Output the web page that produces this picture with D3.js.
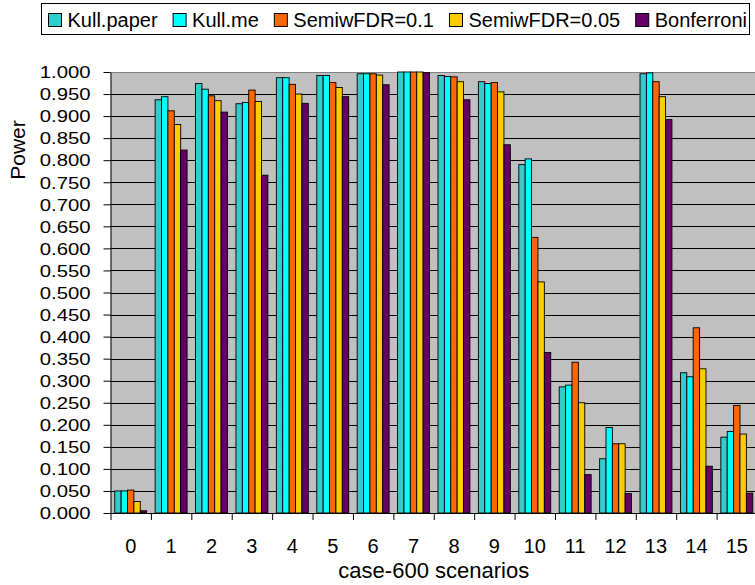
<!DOCTYPE html>
<html>
<head>
<meta charset="utf-8">
<script src="https://cdn.jsdelivr.net/npm/d3@7"></script>
<style>
  html, body { margin: 0; padding: 0; background: #fff; }
  svg { display: block; font-family: "Liberation Sans", Arial, sans-serif; }
</style>
</head>
<body>
<svg id="chart" width="755" height="585"></svg>
<script>
// Scenario categories
const categories = ["0","1","2","3","4","5","6","7","8","9","10","11","12","13","14","15"];

// Power per method, one value per scenario
const kullPaper = [0.050, 0.937, 0.974, 0.928, 0.987, 0.992, 0.996, 1.000, 0.992, 0.978, 0.790, 0.286, 0.123, 0.996, 0.318, 0.172];
const kullMe    = [0.050, 0.944, 0.961, 0.931, 0.987, 0.992, 0.996, 1.000, 0.990, 0.974, 0.803, 0.290, 0.194, 0.998, 0.309, 0.185];
const semiw01   = [0.052, 0.912, 0.946, 0.959, 0.972, 0.976, 0.996, 1.000, 0.989, 0.976, 0.625, 0.342, 0.157, 0.978, 0.420, 0.244];
const semiw005  = [0.026, 0.881, 0.935, 0.933, 0.950, 0.965, 0.993, 1.000, 0.978, 0.955, 0.524, 0.250, 0.157, 0.944, 0.327, 0.179];
const bonferroni= [0.005, 0.823, 0.909, 0.766, 0.929, 0.944, 0.971, 0.999, 0.937, 0.835, 0.364, 0.087, 0.044, 0.892, 0.106, 0.045];

const seriesNames = ["Kull.paper", "Kull.me", "SemiwFDR=0.1", "SemiwFDR=0.05", "Bonferroni"];
const seriesColors = ["#33CCCC", "#00FFFF", "#FF6600", "#FFCC00", "#660066"];

// Y tick values 0.000 .. 1.000 in steps of 0.050
const yTicks = d3.range(0, 21).map(i => i * 0.05);

const series = [kullPaper, kullMe, semiw01, semiw005, bonferroni];

const svg = d3.select("#chart");
const plotLeft = 110.5, plotRight = 757, plotTop = 72, plotBottom = 513;

const x0 = d3.scaleBand().domain(categories).range([plotLeft, plotRight]).padding(0);
const step = x0.step();
const groupGap = step * 0.21;
const x1 = d3.scaleBand().domain(seriesNames).range([groupGap / 2, step - groupGap / 2]).padding(0);
const y = d3.scaleLinear().domain([0, 1]).range([plotBottom, plotTop]);

// Plot background
svg.append("rect")
  .attr("x", plotLeft).attr("y", plotTop)
  .attr("width", plotRight - plotLeft).attr("height", plotBottom - plotTop)
  .attr("fill", "#C0C0C0");

// Horizontal gridlines
svg.append("g").selectAll("line")
  .data(yTicks.filter(v => v > 0))
  .join("line")
  .attr("x1", plotLeft).attr("x2", plotRight)
  .attr("y1", d => Math.round(y(d)) + 0.5).attr("y2", d => Math.round(y(d)) + 0.5)
  .attr("stroke", d => d >= 0.999 ? "#808080" : "#000")
  .attr("stroke-width", 1);

// Bars
const groups = svg.append("g").selectAll("g")
  .data(categories)
  .join("g")
  .attr("transform", d => `translate(${x0(d)},0)`);

groups.selectAll("rect")
  .data((c, i) => series.map((s, k) => ({ name: seriesNames[k], color: seriesColors[k], value: s[i] })))
  .join("rect")
  .attr("x", d => x1(d.name))
  .attr("y", d => y(d.value))
  .attr("width", x1.bandwidth())
  .attr("height", d => y(0) - y(d.value))
  .attr("fill", d => d.color)
  .attr("stroke", "#000")
  .attr("stroke-width", 0.9);

// Y axis
const yAxis = svg.append("g")
  .attr("transform", `translate(${plotLeft},0)`)
  .call(d3.axisLeft(y).tickValues(yTicks).tickFormat(d3.format(".3f")).tickSize(7).tickSizeOuter(0));
yAxis.select(".domain").attr("stroke", "#000");
yAxis.selectAll(".tick line").attr("stroke", "#000");
const stretch = 1.27;
yAxis.selectAll(".tick text")
  .attr("font-family", "Liberation Sans, Arial, sans-serif")
  .attr("font-size", 16)
  .attr("fill", "#000")
  .attr("x", -20 / stretch)
  .attr("dy", "0.36em")
  .attr("transform", `scale(${stretch},1)`);

// X axis: tick marks at category boundaries
const xb = d3.scaleLinear().domain([0, categories.length]).range([plotLeft, plotRight]);
const xAxis = svg.append("g")
  .attr("transform", `translate(0,${plotBottom})`)
  .call(d3.axisBottom(xb).tickValues(d3.range(0, categories.length + 1)).tickSize(7).tickSizeOuter(0).tickFormat(""));
xAxis.select(".domain").attr("stroke", "#000");
xAxis.selectAll(".tick line").attr("stroke", "#000");

// X category labels centred in each group
const xLabels = svg.append("g")
  .attr("transform", `translate(0,${plotBottom})`)
  .call(d3.axisBottom(x0).tickSize(0).tickPadding(0));
xLabels.select(".domain").remove();
xLabels.selectAll(".tick text")
  .attr("font-family", "Liberation Sans, Arial, sans-serif")
  .attr("font-size", 20)
  .attr("fill", "#000")
  .attr("y", 39.7)
  .attr("dy", 0);

// Axis titles
svg.append("text")
  .attr("x", (plotLeft + plotRight) / 2).attr("y", 578)
  .attr("text-anchor", "middle")
  .attr("font-size", 22)
  .text("case-600 scenarios");

svg.append("text")
  .attr("transform", "translate(25,150) rotate(-90)")
  .attr("text-anchor", "middle")
  .attr("font-size", 21)
  .text("Power");

// Legend
const legend = svg.append("g");
legend.append("rect")
  .attr("x", 41.5).attr("y", 3.5).attr("width", 708).attr("height", 31)
  .attr("fill", "#fff").attr("stroke", "#000").attr("stroke-width", 1);

const items = legend.selectAll("g.item")
  .data(seriesNames.map((n, k) => ({ name: n, color: seriesColors[k] })))
  .join("g").attr("class", "item");
items.append("rect")
  .attr("width", 13).attr("height", 13).attr("y", 13.5)
  .attr("fill", d => d.color).attr("stroke", "#000").attr("stroke-width", 1);
items.append("text")
  .attr("y", 27).attr("font-size", 20)
  .text(d => d.name);

// Spread legend entries between the first swatch and the box edge
const swW = 13, swGap = 6;
const widths = items.select("text").nodes().map(n => n.getComputedTextLength());
const startX = 48.5, endX = 747;
const total = widths.reduce((a, b) => a + b, 0) + widths.length * (swW + swGap);
const between = (endX - startX - total) / (widths.length - 1);
let cx = startX;
items.each(function(d, i) {
  const g = d3.select(this);
  g.select("rect").attr("x", cx);
  g.select("text").attr("x", cx + swW + swGap);
  cx += swW + swGap + widths[i] + between;
});
</script>
</body>
</html>
